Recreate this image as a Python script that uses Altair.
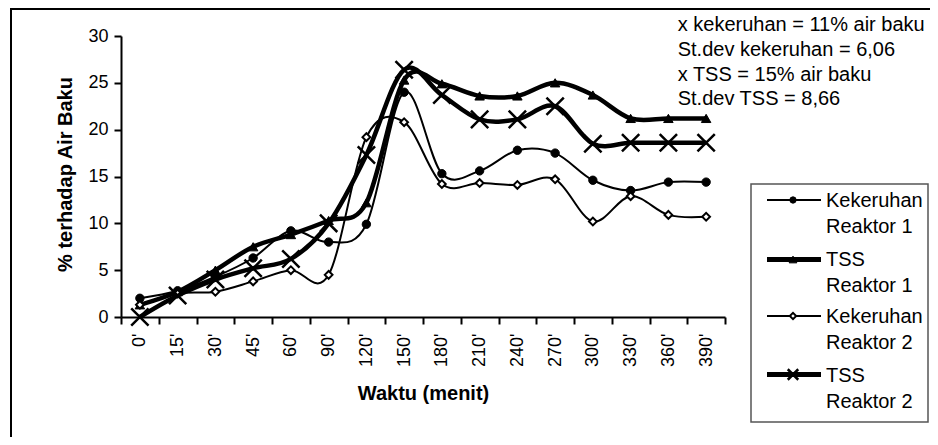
import altair as alt
import pandas as pd

# ---------------- data ----------------
times = ["0'", "15'", "30'", "45'", "60'", "90'", "120'", "150'", "180'", "210'",
         "240'", "270'", "300'", "330'", "360'", "390'"]

kekeruhan_r1 = [2.0, 2.8, 4.3, 6.3, 9.2, 8.0, 9.9, 24.0, 15.3, 15.6, 17.8, 17.5, 14.6, 13.5, 14.4, 14.4]
tss_r1 = [1.3, 2.7, 5.0, 7.5, 8.8, 10.3, 12.2, 25.3, 24.9, 23.6, 23.6, 25.0, 23.7, 21.2, 21.2, 21.2]
kekeruhan_r2 = [1.3, 2.5, 2.7, 3.8, 5.0, 4.5, 19.2, 20.8, 14.2, 14.3, 14.1, 14.7, 10.2, 12.9, 10.9, 10.7]
tss_r2 = [0.0, 2.3, 4.0, 5.2, 6.2, 10.0, 17.3, 26.4, 23.7, 21.1, 21.1, 22.5, 18.5, 18.6, 18.6, 18.6]

series_names = ["Kekeruhan Reaktor 1", "TSS Reaktor 1", "Kekeruhan Reaktor 2", "TSS Reaktor 2"]
series_values = [kekeruhan_r1, tss_r1, kekeruhan_r2, tss_r2]
legend_lines = [["Kekeruhan", "Reaktor 1"], ["TSS", "Reaktor 1"],
                ["Kekeruhan", "Reaktor 2"], ["TSS", "Reaktor 2"]]

y_ticks = [0, 5, 10, 15, 20, 25, 30]
annotation = ["x kekeruhan = 11% air baku", "St.dev kekeruhan = 6,06",
              "x TSS = 15% air baku", "St.dev TSS = 8,66"]

rows = []
for name, vals in zip(series_names, series_values):
    for t, v in zip(times, vals):
        rows.append({"time": t, "series": name, "value": v})
df = pd.DataFrame(rows)

# ---------------- styles ----------------
FONT = "Liberation Sans"
X_PATH = "M-1,-1L1,1M-1,1L1,-1"
styles = {
    "Kekeruhan Reaktor 1": dict(width=2, shape="circle", filled=True, fill="black", size=70, sw=1, lsize=40),
    "TSS Reaktor 1": dict(width=4.5, shape="triangle-up", filled=True, fill="black", size=90, sw=1, lsize=60),
    "Kekeruhan Reaktor 2": dict(width=2, shape="diamond", filled=True, fill="white", size=60, sw=2, lsize=40),
    "TSS Reaktor 2": dict(width=4.5, shape=X_PATH, filled=False, fill="black", size=300, sw=2.5, lsize=110),
}

W, H = 604, 281
TOTAL_W, TOTAL_H = 922, 429

x_enc = alt.X(
    "time:O", sort=times,
    scale=alt.Scale(type="band", paddingInner=0, paddingOuter=0),
    bandPosition=0.5,
    axis=alt.Axis(
        title="Waktu (menit)", tickBand="extent", labelAngle=270,
        labelAlign="right", labelBaseline="middle",
        labelFont=FONT, labelFontSize=18, labelColor="black", labelPadding=9,
        tickSize=7, tickWidth=2, tickColor="black", domainColor="black", domainWidth=2,
        titleFont=FONT, titleFontSize=20, titleFontWeight="bold", titleColor="black",
        titleX=302, titleY=76, titleAlign="center", titleBaseline="middle",
        grid=False,
    ),
)
y_enc = alt.Y(
    "value:Q",
    scale=alt.Scale(domain=[0, 30], nice=False, zero=True),
    axis=alt.Axis(
        title="% terhadap Air Baku", values=y_ticks, grid=False,
        labelFont=FONT, labelFontSize=18, labelColor="black", labelPadding=6,
        tickSize=7, tickWidth=2, tickColor="black", domainColor="black", domainWidth=2,
        titleFont=FONT, titleFontSize=20, titleFontWeight="bold", titleColor="black",
        titleAngle=270, titleX=-56, titleY=138, titleAlign="center", titleBaseline="middle",
    ),
)

base = alt.Chart(df)

layers = []

# outer frame
layers.append(
    alt.Chart(pd.DataFrame({"k": [0]})).mark_rect(fillOpacity=0, stroke="black", strokeWidth=2).encode(
        x=alt.value(-110), x2=alt.value(1000), y=alt.value(-27), y2=alt.value(600)
    )
)

for name in series_names:
    st = styles[name]
    sub = base.transform_filter(alt.datum.series == name)
    layers.append(
        sub.mark_line(interpolate="cardinal", color="black", strokeWidth=st["width"]).encode(x=x_enc, y=y_enc)
    )
for name in series_names:
    st = styles[name]
    sub = base.transform_filter(alt.datum.series == name)
    layers.append(
        sub.mark_point(shape=st["shape"], filled=st["filled"], fill=st["fill"] if st["filled"] else "black",
                       stroke="black", strokeWidth=st["sw"], size=st["size"], opacity=1).encode(x=x_enc, y=y_enc)
    )

# annotation text
layers.append(
    alt.Chart(pd.DataFrame({"k": [0]})).mark_text(
        align="left", baseline="alphabetic", font=FONT, fontSize=20, lineHeight=24.8, color="black"
    ).encode(x=alt.value(556.7), y=alt.value(-5), text=alt.value(annotation))
)

# legend box
layers.append(
    alt.Chart(pd.DataFrame({"k": [0]})).mark_rect(fill="white", stroke="#555555", strokeWidth=1.5).encode(
        x=alt.value(630), x2=alt.value(807), y=alt.value(148), y2=alt.value(386)
    )
)
legend_line_y = [164, 223.5, 280, 338.5]
legend_text_y = [164.5, 224, 281.3, 339.7]
for i, name in enumerate(series_names):
    st = styles[name]
    one = alt.Chart(pd.DataFrame({"k": [0]}))
    layers.append(one.mark_rule(color="black", strokeWidth=st["width"] + (0.5 if st["width"] > 3 else 0)).encode(
        x=alt.value(646), x2=alt.value(700), y=alt.value(legend_line_y[i])))
    layers.append(one.mark_point(shape=st["shape"], filled=st["filled"],
                                 fill=st["fill"] if st["filled"] else "black",
                                 stroke="black", strokeWidth=st["sw"], size=st["lsize"], opacity=1).encode(
        x=alt.value(672), y=alt.value(legend_line_y[i])))
    for j, line in enumerate(legend_lines[i]):
        layers.append(one.mark_text(align="left", baseline="middle", font=FONT, fontSize=20, color="black").encode(
            x=alt.value(705), y=alt.value(legend_text_y[i] + 26 * j), text=alt.value(line)))

chart = alt.layer(*layers).properties(
    width=W, height=H,
    autosize=alt.AutoSizeParams(type="none"),
    padding={"left": 113, "top": 28, "right": TOTAL_W - 113 - W, "bottom": TOTAL_H - 28 - H},
    background="white",
).configure_view(stroke=None)

chart.save("out.html", embed_options={"renderer": "svg", "actions": False})
